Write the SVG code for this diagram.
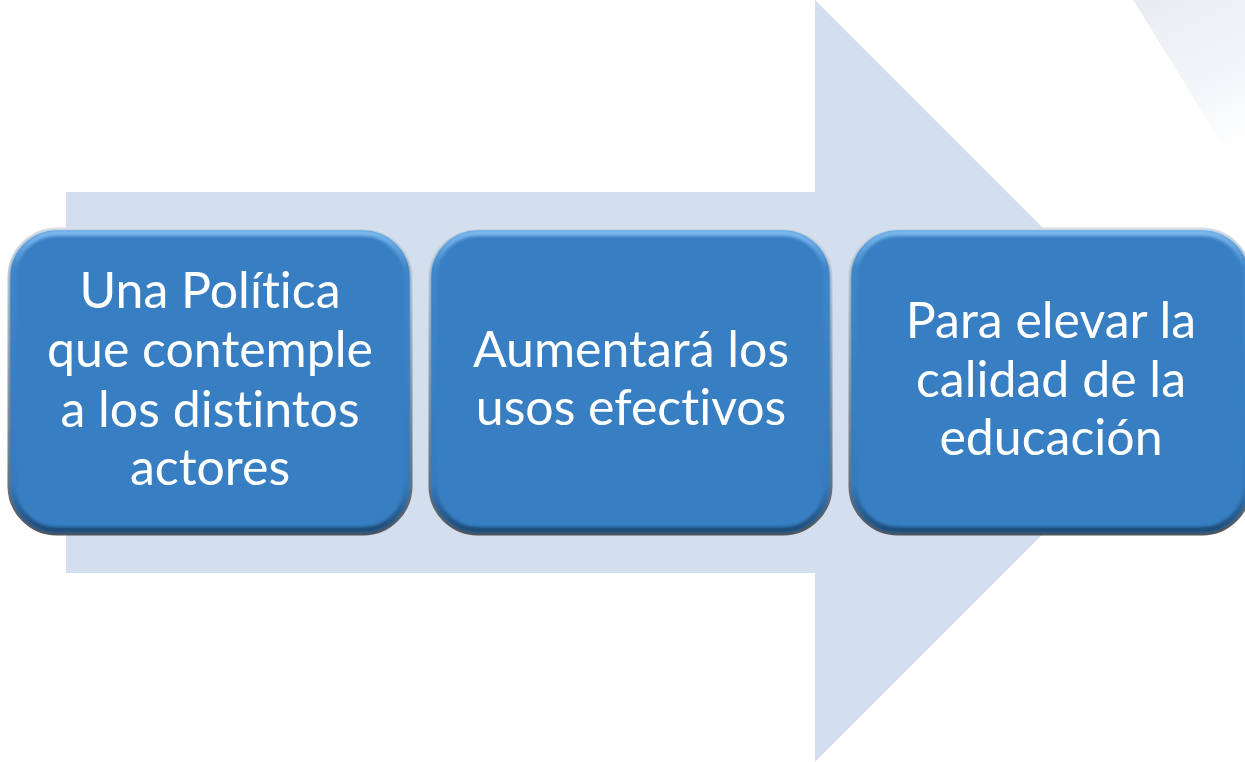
<svg xmlns="http://www.w3.org/2000/svg" width="1245" height="762" viewBox="0 0 1245 762">
<defs>
<linearGradient id="deco" x1="0" y1="0" x2="0.3" y2="1">
<stop offset="0" stop-color="#E8ECF0"/>
<stop offset="0.6" stop-color="#F3F6F9"/>
<stop offset="1" stop-color="#FFFFFF"/>
</linearGradient>
<linearGradient id="rim" x1="0" y1="0" x2="0" y2="1">
<stop offset="0" stop-color="#E6E6E6"/>
<stop offset="0.5" stop-color="#A0A0A0"/>
<stop offset="1" stop-color="#5A5A5A"/>
</linearGradient>
<linearGradient id="bevel" x1="0" y1="0" x2="0" y2="1">
<stop offset="0" stop-color="#7DB8EE"/>
<stop offset="0.12" stop-color="#3F86C8"/>
<stop offset="0.85" stop-color="#3479BB"/>
<stop offset="1" stop-color="#1E4A75"/>
</linearGradient>
<filter id="soft" x="-5%" y="-5%" width="110%" height="110%">
<feGaussianBlur stdDeviation="1.5"/>
</filter>
<style>
.box{fill:#377FC2;stroke:url(#rim);stroke-width:3}
.bev{fill:none;stroke:url(#bevel);stroke-width:6;filter:url(#soft)}
.lbl{font-family:Lato,"Open Sans","Liberation Sans",sans-serif;font-size:50px;fill:#FFFFFF;text-anchor:middle;font-variant-ligatures:none;font-feature-settings:"liga" 0}
</style>
</defs>
<rect width="1245" height="762" fill="#FFFFFF"/>
<path d="M1133,0 L1245,0 L1245,185 Q1190,90 1133,0 Z" fill="url(#deco)"/>
<g id="connectors">
<path d="M66,192 L815,192 L815,0 L1196,381 L815,762 L815,573 L66,573 Z" fill="#D3DEEF"/>
</g>
<g id="node1">
<rect class="box" x="9" y="229" width="402" height="305" rx="48"/>
<rect class="bev" x="13" y="233" width="394" height="297" rx="44"/>
<text class="lbl" x="210" y="308">Una Política</text>
<text class="lbl" x="210" y="367">que contemple</text>
<text class="lbl" x="210" y="427">a los distintos</text>
<text class="lbl" x="210" y="485">actores</text>
</g>
<g id="node2">
<rect class="box" x="430" y="229" width="401" height="305" rx="48"/>
<rect class="bev" x="434" y="233" width="393" height="297" rx="44"/>
<text class="lbl" x="631" y="367">Aumentará los</text>
<text class="lbl" x="631" y="425">usos efectivos</text>
</g>
<g id="node3">
<rect class="box" x="850" y="229" width="400" height="305" rx="48"/>
<rect class="bev" x="854" y="233" width="392" height="297" rx="44"/>
<text class="lbl" x="1051" y="338">Para elevar la</text>
<text class="lbl" x="1051" y="397">calidad de la</text>
<text class="lbl" x="1051" y="455">educación</text>
</g>
</svg>
